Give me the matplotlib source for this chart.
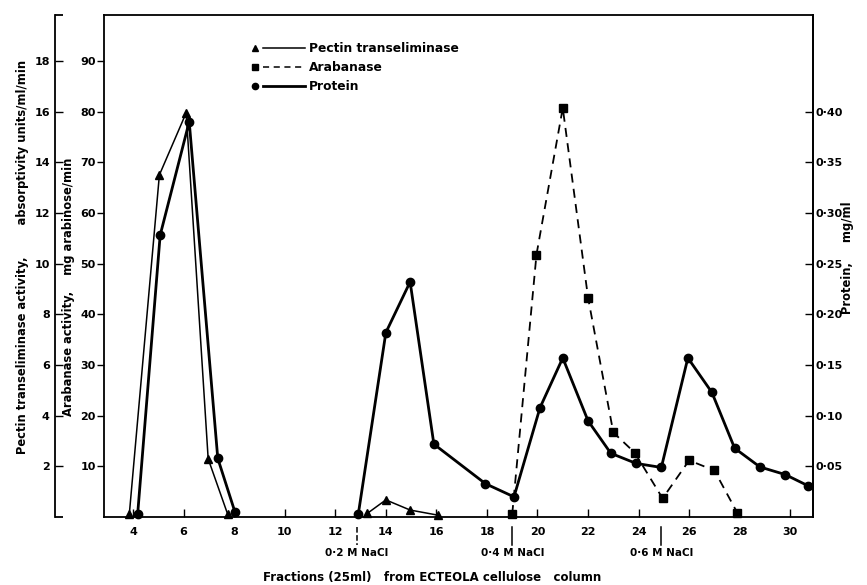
import numpy as np
import matplotlib
matplotlib.use("Agg")
import matplotlib.pyplot as plt

plt.rcParams['font.family'] = ['DejaVu Sans']
plt.rcParams['font.weight'] = 'bold'

nan = np.nan

# Pectin transeliminase activity (absorptivity units/ml/min)
pectin_frac = [3.85, 5.04, 6.1, 6.97, 7.74, nan, 13.27, 14.0, 14.96, 16.05]
pectin_act = [0.12, 13.5, 15.95, 2.3, 0.12, nan, 0.15, 0.68, 0.28, 0.08]

# Arabanase activity (mg arabinose/min)
arab_frac = [19.0, 19.96, 21.0, 22.0, 23.0, 23.85, 24.95, 26.0, 27.0, 27.9]
arab_act = [0.6, 51.8, 80.7, 43.3, 16.7, 12.7, 3.7, 11.2, 9.2, 0.9]

# Protein (mg/ml)
prot_frac = [4.18, 5.07, 6.22, 7.35, 8.03, nan, 12.91, 14.0, 14.96, 15.9,
             17.94, 19.07, 20.1, 21.0, 22.0, 22.9, 23.9, 24.9, 25.95, 26.9,
             27.8, 28.8, 29.8, 30.7]
prot_conc = [0.003, 0.278, 0.39, 0.058, 0.005, nan, 0.003, 0.182, 0.232, 0.072,
             0.033, 0.02, 0.108, 0.157, 0.095, 0.063, 0.053, 0.049, 0.157, 0.123,
             0.068, 0.0495, 0.042, 0.031]

x_ticks = list(range(4, 31, 2))
arab_ticks = [10, 20, 30, 40, 50, 60, 70, 80, 90]
pectin_ticks = [2, 4, 6, 8, 10, 12, 14, 16, 18]
prot_ticks = [0.05, 0.10, 0.15, 0.20, 0.25, 0.30, 0.35, 0.40]
prot_labels = ['0·05', '0·10', '0·15', '0·20', '0·25', '0·30', '0·35', '0·40']

salt_frac = [12.85, 19.0, 24.9]
salt_labels = ['0·2 M NaCl', '0·4 M NaCl', '0·6 M NaCl']
salt_styles = ['--', '-', '-']

fig = plt.figure(figsize=(8.67, 5.85), dpi=100)
ax = fig.add_axes([0.12, 0.116, 0.8177, 0.858])
ax_p = ax.twinx()
ax_r = ax.twinx()

top_arab = 99.0
ax.set_xlim(2.85, 30.9)
ax.set_ylim(0, top_arab)
ax_p.set_ylim(0, top_arab / 5)
ax_r.set_ylim(0, top_arab / 200)

# main (arabanase) axis
ax.set_xticks(x_ticks)
ax.tick_params(axis='x', direction='in', pad=7, labelsize=8, width=1.0, length=6)
ax.set_yticks(arab_ticks)
ax.tick_params(axis='y', direction='out', pad=1, labelsize=8, width=1.0, length=5)
for s in ax.spines.values():
    s.set_linewidth(1.3)

# pectin axis, bracket on far left
ax_p.yaxis.set_ticks_position('left')
ax_p.yaxis.set_label_position('left')
ax_p.spines['left'].set_visible(True)
ax_p.spines['left'].set_position(('outward', 35))
ax_p.spines['left'].set_linewidth(1.3)
for k in ['right', 'top', 'bottom']:
    ax_p.spines[k].set_visible(False)
ax_p.set_yticks(pectin_ticks)
ax_p.set_yticks([0, top_arab / 5], minor=True)
ax_p.tick_params(axis='y', which='major', direction='in', pad=4,
                 labelsize=8, width=1.0, length=6)
ax_p.tick_params(axis='y', which='minor', direction='in', width=1.3, length=6)

# protein axis on the right
ax_r.set_yticks(prot_ticks)
ax_r.set_yticklabels(prot_labels)
ax_r.tick_params(axis='y', direction='in', pad=2, labelsize=8, width=1.0, length=6)
for k in ['left', 'top', 'bottom']:
    ax_r.spines[k].set_visible(False)
ax_r.spines['right'].set_linewidth(1.3)

# series
ax_p.plot(pectin_frac, pectin_act, '-', color='black', lw=1.1,
          marker='^', ms=5.5, clip_on=False)
ax.plot(arab_frac, arab_act, '--', color='black', lw=1.3, dashes=(5, 3.5),
        marker='s', ms=5.5, clip_on=False)
ax_r.plot(prot_frac, prot_conc, '-', color='black', lw=2.0,
          marker='o', ms=6, clip_on=False)

# salt step markers below the axis
for xs, lab, ls in zip(salt_frac, salt_labels, salt_styles):
    ax.plot([xs, xs], [-0.02, -0.055], ls=ls, color='black', lw=1.1,
            transform=ax.get_xaxis_transform(), clip_on=False)
    ax.text(xs, -0.072, lab, transform=ax.get_xaxis_transform(),
            ha='center', va='center', fontsize=7.5)

# legend drawn by hand
leg_rows = [0.934, 0.896, 0.858]
leg_items = [('^', '-', 1.1, 'Pectin transeliminase'),
             ('s', '--', 1.1, 'Arabanase'),
             ('o', '-', 2.0, 'Protein')]
for y, (mk, ls, lw, lab) in zip(leg_rows, leg_items):
    ax.plot([0.213], [y], marker=mk, ms=4.5, color='black',
            transform=ax.transAxes, clip_on=False)
    ax.plot([0.224, 0.284], [y, y], ls=ls, lw=lw, color='black',
            transform=ax.transAxes, dashes=(4, 3) if ls == '--' else (None, None))
    ax.text(0.289, y, lab, transform=ax.transAxes, ha='left', va='center',
            fontsize=8.8)

# axis labels
fig.text(0.026, 0.56, 'Pectin transeliminase activity,        absorptivity units/ml/min',
         rotation=90, ha='center', va='center', fontsize=8.3)
fig.text(0.079, 0.51, 'Arabanase activity,    mg arabinose/min',
         rotation=90, ha='center', va='center', fontsize=8.3)
fig.text(0.978, 0.56, 'Protein,     mg/ml',
         rotation=90, ha='center', va='center', fontsize=8.3)
fig.text(0.498, 0.012, 'Fractions (25ml)   from ECTEOLA cellulose   column',
         ha='center', va='center', fontsize=8.5)

fig.savefig('out.png', dpi=100)
